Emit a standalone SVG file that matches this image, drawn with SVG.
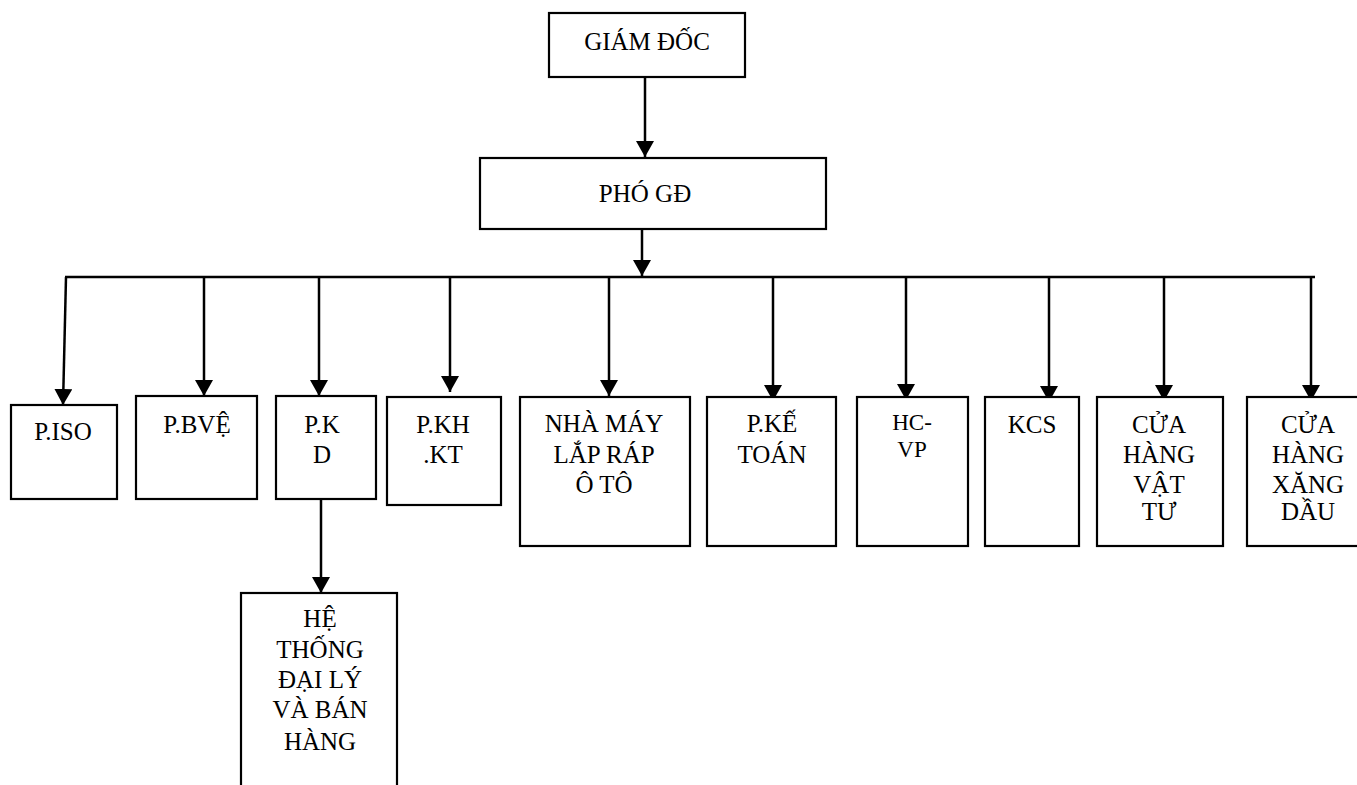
<svg xmlns="http://www.w3.org/2000/svg" width="1357" height="785" viewBox="0 0 1357 785">
<style>
.box{fill:#fff;stroke:#000;stroke-width:2.2}
text{font-family:'Liberation Serif','DejaVu Serif',serif;font-size:25px;fill:#000;text-anchor:middle}
.s{font-size:23px}
.c{fill:none;stroke:#000;stroke-width:2.5}
</style>
<defs>
<marker id="ah" markerUnits="userSpaceOnUse" markerWidth="18" markerHeight="20" refX="16" refY="9" orient="auto" viewBox="0 0 18 20">
<path d="M0,0 L16,9 L0,18 Z" fill="#000"/>
</marker>
</defs>
<g id="connectors">
<line class="c" x1="645" y1="77" x2="645" y2="157" marker-end="url(#ah)"/>
<line class="c" x1="642" y1="229" x2="642" y2="276" marker-end="url(#ah)"/>
<line class="c" x1="65" y1="277" x2="1315" y2="277"/>
<line class="c" x1="66" y1="277" x2="63" y2="405" marker-end="url(#ah)"/>
<line class="c" x1="204" y1="277" x2="204" y2="396" marker-end="url(#ah)"/>
<line class="c" x1="319" y1="277" x2="319" y2="396" marker-end="url(#ah)"/>
<line class="c" x1="450" y1="277" x2="450" y2="392" marker-end="url(#ah)"/>
<line class="c" x1="609" y1="277" x2="609" y2="396" marker-end="url(#ah)"/>
<line class="c" x1="773" y1="277" x2="773" y2="401" marker-end="url(#ah)"/>
<line class="c" x1="906" y1="277" x2="906" y2="400" marker-end="url(#ah)"/>
<line class="c" x1="1049" y1="277" x2="1049" y2="402" marker-end="url(#ah)"/>
<line class="c" x1="1164" y1="277" x2="1164" y2="401" marker-end="url(#ah)"/>
<line class="c" x1="1311" y1="277" x2="1311" y2="401" marker-end="url(#ah)"/>
<line class="c" x1="321" y1="499" x2="321" y2="593" marker-end="url(#ah)"/>
</g>
<g id="giamdoc">
<rect class="box" x="549" y="13" width="196" height="64"/>
<text x="647" y="50" font-family="Liberation Serif, serif">GIÁM ĐỐC</text>
</g>
<g id="phogd">
<rect class="box" x="480" y="158" width="346" height="71"/>
<text x="645" y="202">PHÓ GĐ</text>
</g>
<g id="piso">
<rect class="box" x="11" y="405" width="106" height="94"/>
<text x="63" y="440">P.ISO</text>
</g>
<g id="pbve">
<rect class="box" x="136" y="396" width="121" height="103"/>
<text x="197" y="433">P.BVỆ</text>
</g>
<g id="pkd">
<rect class="box" x="276" y="396" width="100" height="103"/>
<text x="322" y="433">P.K</text>
<text x="322" y="463">D</text>
</g>
<g id="pkhkt">
<rect class="box" x="387" y="397" width="114" height="108"/>
<text x="443" y="433">P.KH</text>
<text x="443" y="463">.KT</text>
</g>
<g id="nhamay">
<rect class="box" x="520" y="397" width="170" height="149"/>
<text x="604" y="432">NHÀ MÁY</text>
<text x="604" y="463">LẮP RÁP</text>
<text x="604" y="493">Ô TÔ</text>
</g>
<g id="pketoan">
<rect class="box" x="707" y="397" width="129" height="149"/>
<text x="772" y="432">P.KẾ</text>
<text x="772" y="463">TOÁN</text>
</g>
<g id="hcvp">
<rect class="box" x="857" y="397" width="111" height="149"/>
<text class="s" x="912" y="430">HC-</text>
<text class="s" x="912" y="457">VP</text>
</g>
<g id="kcs">
<rect class="box" x="985" y="397" width="94" height="149"/>
<text x="1032" y="433">KCS</text>
</g>
<g id="chvattu">
<rect class="box" x="1097" y="397" width="126" height="149"/>
<text x="1159" y="433">CỬA</text>
<text x="1159" y="463">HÀNG</text>
<text x="1159" y="493">VẬT</text>
<text x="1159" y="520">TƯ</text>
</g>
<g id="chxangdau">
<rect class="box" x="1247" y="397" width="120" height="149"/>
<text x="1308" y="433">CỬA</text>
<text x="1308" y="463">HÀNG</text>
<text x="1308" y="493">XĂNG</text>
<text x="1308" y="520">DẦU</text>
</g>
<g id="hethong">
<rect class="box" x="241" y="593" width="156" height="200"/>
<text x="320" y="627">HỆ</text>
<text x="320" y="658">THỐNG</text>
<text x="320" y="688">ĐẠI LÝ</text>
<text x="320" y="718">VÀ BÁN</text>
<text x="320" y="750">HÀNG</text>
</g>
</svg>
